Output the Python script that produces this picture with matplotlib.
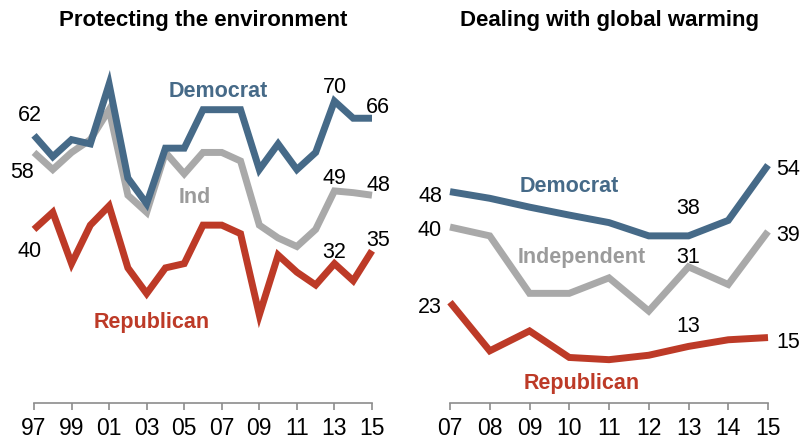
import matplotlib
matplotlib.use("Agg")
import matplotlib.pyplot as plt

plt.rcParams['font.family'] = ['Liberation Sans', 'DejaVu Sans']

# --- data ---
env_years = list(range(1997, 2016))
env_dem = [62, 57, 61, 60, 74, 52, 46, 59, 59, 68, 68, 68, 54, 60, 54, 58, 70, 66, 66]
env_ind = [58, 54, 58, 61, 68, 48, 44, 58, 53, 58, 58, 56, 41, 38, 36, 40, 49, 48.6, 48]
env_rep = [40, 44, 32, 41, 45.5, 31, 25, 31, 32, 41, 41, 39, 20, 34, 30, 27, 32, 28, 35]
env_ticks = list(range(1997, 2016, 2))

gw_years = list(range(2007, 2016))
gw_dem = [48, 46.5, 44.5, 42.7, 41, 38, 38, 41.5, 54]
gw_ind = [40, 38, 25, 25, 28.5, 21, 31, 27, 39]
gw_rep = [23, 12, 16.5, 10.5, 10, 11, 13, 14.5, 15]

BLUE = '#466a88'
GRAY = '#a9a9a9'
RED = '#bd3a27'
GRAY_TXT = '#9b9b9b'
AXIS = '#8c8c8c'

fig = plt.figure(figsize=(8.05, 4.43), dpi=100)
ax1 = fig.add_axes([34 / 805, 40 / 443, 338 / 805, 363 / 443])
ax2 = fig.add_axes([450 / 805, 40 / 443, 318 / 805, 363 / 443])


def style(ax, ticks, ylim):
    ax.set_xlim(ticks[0], ticks[-1])
    ax.set_ylim(*ylim)
    for s in ['left', 'right', 'top']:
        ax.spines[s].set_visible(False)
    ax.spines['bottom'].set_color(AXIS)
    ax.spines['bottom'].set_linewidth(1.2)
    ax.set_yticks([])
    ax.set_xticks(ticks)
    ax.set_xticklabels(['%02d' % (t % 100) for t in ticks])
    ax.tick_params(axis='x', length=5, width=1.2, color=AXIS, pad=5,
                   labelsize=16.5, labelcolor='black')
    ax.set_facecolor('none')


def draw(ax, x, y, c):
    ax.plot(x, y, color=c, lw=5, solid_joinstyle='miter',
            solid_capstyle='butt', clip_on=False)


def num(ax, x, y, dx, dy):
    ax.annotate('%d' % round(y), (x, y), xytext=(dx, dy),
                textcoords='offset pixels', ha='center', va='baseline',
                fontsize=15.5, color='black')


# left panel
style(ax1, env_ticks, (-0.6, 84.3))
draw(ax1, env_years, env_ind, GRAY)
draw(ax1, env_years, env_rep, RED)
draw(ax1, env_years, env_dem, BLUE)
ax1.set_title('Protecting the environment', fontsize=16, fontweight='bold',
              pad=0, y=1.0 + 14 / 363)

num(ax1, env_years[0], env_dem[0], -4, 14)
num(ax1, env_years[0], env_ind[0], -12, -26)
num(ax1, env_years[0], env_rep[0], -4, -28)
num(ax1, env_years[16], env_dem[16], 0, 8)
num(ax1, env_years[18], env_dem[18], 6, 5)
num(ax1, env_years[16], env_ind[16], 0, 7)
num(ax1, env_years[18], env_ind[18], 6, 4)
num(ax1, env_years[16], env_rep[16], 0, 6)
num(ax1, env_years[18], env_rep[18], 6, 5)

ax1.text(2006.8, 71.0, 'Democrat', color=BLUE, fontsize=15.5,
         fontweight='bold', ha='center', va='baseline')
ax1.text(2005.57, 46.2, 'Ind', color=GRAY_TXT, fontsize=15.5,
         fontweight='bold', ha='center', va='baseline')
ax1.text(2003.28, 17.0, 'Republican', color=RED, fontsize=15.5,
         fontweight='bold', ha='center', va='baseline')

# right panel
style(ax2, gw_years, (0.2, 82.3))
draw(ax2, gw_years, gw_ind, GRAY)
draw(ax2, gw_years, gw_rep, RED)
draw(ax2, gw_years, gw_dem, BLUE)
ax2.set_title('Dealing with global warming', fontsize=16, fontweight='bold',
              pad=0, y=1.0 + 14 / 363)

for series, dy0, dy6 in [(gw_dem, -10, 22), (gw_ind, -9, 4), (gw_rep, -11, 14)]:
    num(ax2, gw_years[0], series[0], -20, dy0)
    num(ax2, gw_years[6], series[6], 0, dy6)
    num(ax2, gw_years[8], series[8], 20, -10)

ax2.text(2009.99, 48.0, 'Democrat', color=BLUE, fontsize=15.5,
         fontweight='bold', ha='center', va='baseline')
ax2.text(2010.32, 31.9, 'Independent', color=GRAY_TXT, fontsize=15.5,
         fontweight='bold', ha='center', va='baseline')
ax2.text(2010.32, 3.3, 'Republican', color=RED, fontsize=15.5,
         fontweight='bold', ha='center', va='baseline')

fig.savefig('out.png', dpi=100)
